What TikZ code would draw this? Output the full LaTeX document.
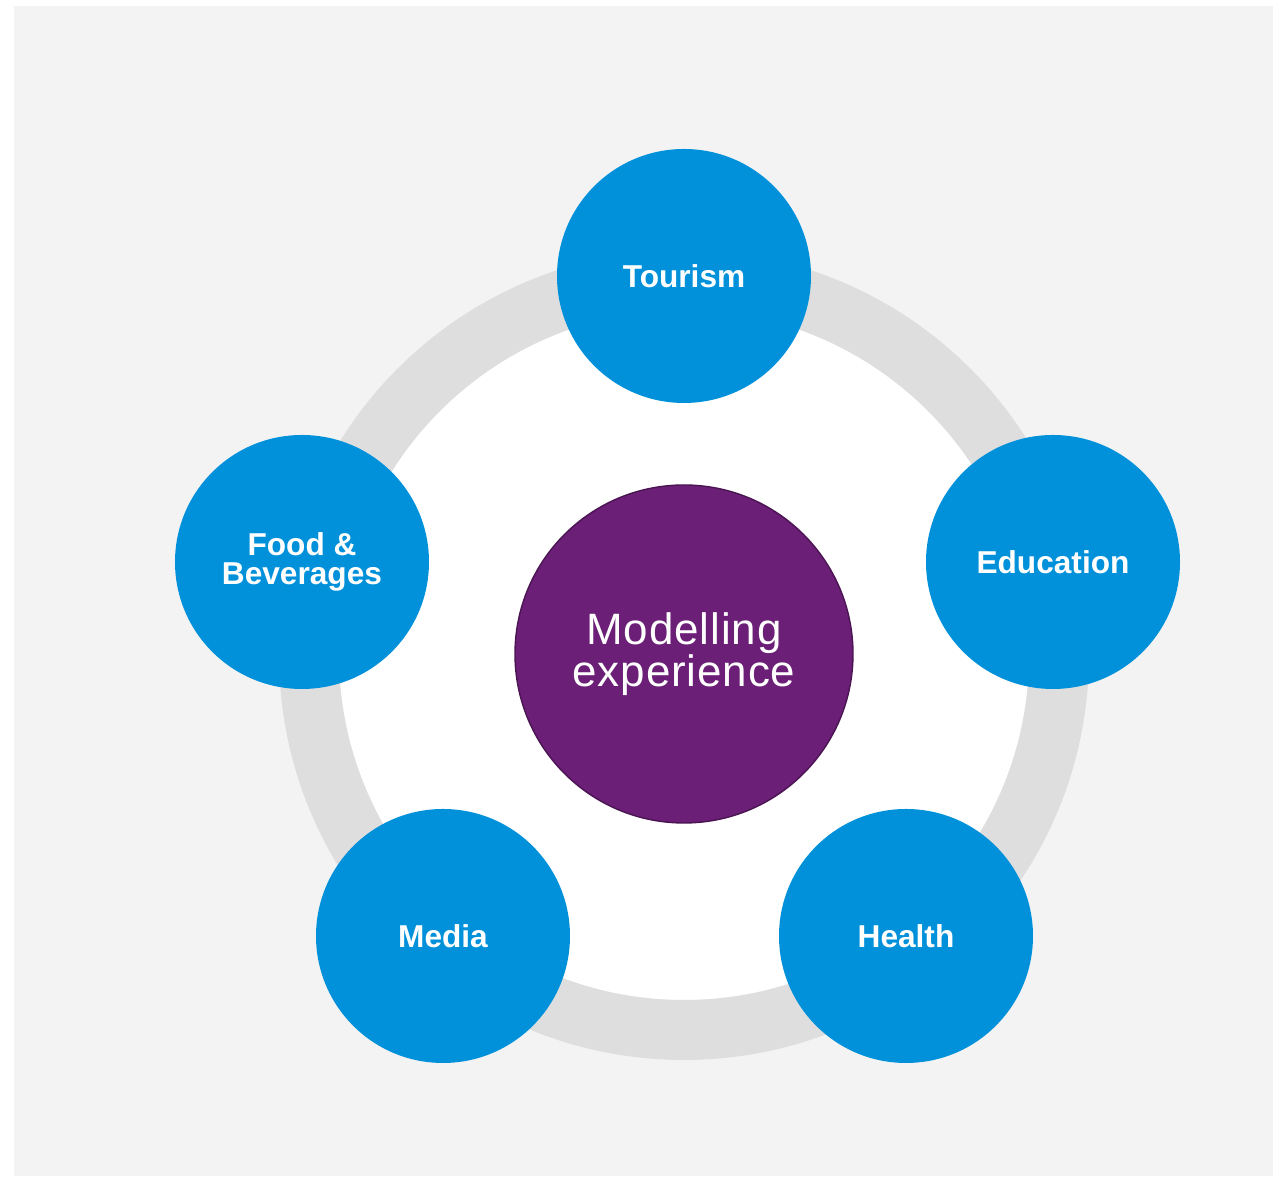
\documentclass[tikz,border=0pt]{standalone}
\usepackage{fontspec}
\setmainfont{Liberation Sans}
\definecolor{kblue}{HTML}{0091DA}
\definecolor{kpurple}{HTML}{6B1F76}
\definecolor{kpurpledark}{HTML}{4A1552}
\definecolor{kring}{HTML}{DEDEDE}
\definecolor{kback}{HTML}{F3F3F3}
\tikzset{
  area/.style={circle, fill=kblue, text=white, minimum size=5.08cm, inner sep=0pt,
    align=center, font=\bfseries\fontsize{18}{16}\selectfont},
  hub/.style={circle, fill=kpurple, draw=kpurpledark, line width=0.8pt, minimum size=6.76cm,
    inner sep=0pt, text=white, align=center,
    font=\fontsize{25}{24}\selectfont\addfontfeature{LetterSpace=2}}
}
\begin{document}
\begin{tikzpicture}
  \useasboundingbox (0,0) rectangle (25.62,23.56);
  \fill[kback] (0.28,0.04) rectangle (25.46,23.44);
  % grey ring around the hub
  \coordinate (centre) at (13.68,10.46);
  \filldraw[fill=white, draw=kring, line width=1.2cm] (centre) circle (7.5cm);
  \node[hub] (hub) at (13.68,10.48) {Modelling\\experience};
  % the five areas
  \node[area] (tourism) at (13.68,18.04) {Tourism};
  \node[area] (education) at (21.06,12.32) {Education};
  \node[area] (health) at (18.12,4.84) {Health};
  \node[area] (media) at (8.86,4.84) {Media};
  \node[area, font=\bfseries\fontsize{18}{16.5}\selectfont] (food) at (6.04,12.32) {Food \&\\Beverages};
\end{tikzpicture}
\end{document}
